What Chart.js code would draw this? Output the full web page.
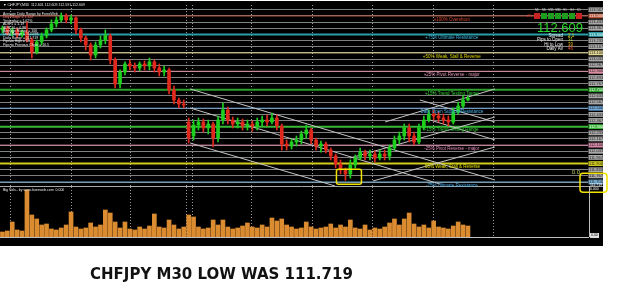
<!DOCTYPE html>
<html><head><meta charset="utf-8">
<script src="https://cdn.jsdelivr.net/npm/chart.js"></script>
<style>
html,body{margin:0;padding:0;background:#fff;width:625px;height:297px;overflow:hidden}
#bg{position:absolute;left:0;top:1px;width:603px;height:245px;background:#000}
canvas{position:absolute;left:0;top:0}
#title{position:absolute;left:90px;top:265px;font:bold 15px "DejaVu Sans";color:#111;white-space:nowrap}
</style></head><body>
<div id="bg"></div>
<canvas id="price" width="625" height="297" style="width:625px;height:297px"></canvas>
<canvas id="vol" width="625" height="297" style="width:625px;height:297px"></canvas>
<div id="title">CHFJPY M30 LOW WAS 111.719</div>
<script>
// ---------- data ----------
const timeLabels = ["21 Jan 2015","22 Jan 04:00","22 Jan 12:00","22 Jan 20:00","23 Jan 04:00","23 Jan 12:00","23 Jan 20:00","26 Jan 04:00","26 Jan 12:00","26 Jan 20:00","27 Jan 04:00","27 Jan 12:00","27 Jan 20:00","28 Jan 04:00","28 Jan 12:00","28 Jan 20:00","29 Jan 04:00","29 Jan 12:00","29 Jan 20:00","30 Jan 04:00","30 Jan 12:00","30 Jan 20:00","2 Feb 04:00","2 Feb 12:00","2 Feb 20:00"];

const openP = [113.349,113.370,113.316,113.349,113.294,113.327,113.240,113.110,113.218,113.284,
113.349,113.414,113.457,113.500,113.457,113.479,113.349,113.262,113.186,113.077,
113.186,113.240,113.284,113.023,112.763,112.893,112.980,112.958,112.936,112.980,
112.958,113.002,112.936,112.893,112.915,112.698,112.589,112.546,112.351,112.199,
112.318,112.351,112.286,112.329,112.177,112.372,112.481,112.372,112.329,112.351,
112.307,112.329,112.307,112.351,112.372,112.351,112.394,112.307,112.112,112.090,
112.134,112.156,112.221,112.264,112.156,112.090,112.112,112.047,111.982,111.895,
111.830,111.787,111.884,111.960,112.025,111.982,112.004,111.960,112.004,111.982,
112.069,112.156,112.199,112.286,112.199,112.134,112.286,112.372,112.438,112.416,
112.394,112.372,112.351,112.459,112.524,112.589];
const highP = [113.392,113.392,113.370,113.370,113.349,113.435,113.262,113.240,113.316,113.370,
113.457,113.490,113.533,113.522,113.511,113.490,113.370,113.284,113.208,113.218,
113.284,113.349,113.305,113.045,112.915,113.002,113.023,112.991,113.002,113.012,
113.045,113.023,112.980,112.958,112.936,112.741,112.611,112.589,112.394,112.372,
112.394,112.383,112.372,112.351,112.416,112.557,112.513,112.405,112.394,112.383,
112.372,112.362,112.394,112.416,112.427,112.448,112.427,112.329,112.156,112.166,
112.199,112.253,112.318,112.286,112.177,112.145,112.134,112.069,112.004,111.939,
111.852,111.939,111.993,112.069,112.047,112.047,112.036,112.047,112.047,112.101,
112.199,112.242,112.329,112.329,112.242,112.329,112.416,112.481,112.481,112.459,
112.438,112.416,112.503,112.568,112.633,112.633];
const lowP = [113.316,113.294,113.284,113.262,113.273,113.218,113.045,113.088,113.186,113.262,
113.327,113.381,113.435,113.425,113.414,113.305,113.218,113.132,113.023,113.045,
113.153,113.197,112.980,112.720,112.720,112.861,112.915,112.893,112.904,112.915,
112.915,112.893,112.850,112.850,112.655,112.546,112.503,112.503,112.123,112.156,
112.264,112.242,112.221,112.080,112.134,112.329,112.329,112.286,112.286,112.264,
112.264,112.253,112.264,112.307,112.307,112.329,112.264,112.047,112.047,112.058,
112.090,112.112,112.177,112.112,112.047,112.025,112.015,111.939,111.852,111.787,
111.719,111.743,111.852,111.939,111.939,111.939,111.917,111.939,111.939,111.939,
112.047,112.112,112.156,112.134,112.101,112.112,112.264,112.351,112.372,112.351,
112.329,112.307,112.329,112.438,112.503,112.579];
const closeP = [113.370,113.316,113.349,113.294,113.327,113.240,113.110,113.218,113.284,113.349,
113.414,113.457,113.500,113.457,113.479,113.349,113.262,113.186,113.077,113.186,
113.240,113.294,113.023,112.763,112.893,112.980,112.958,112.936,112.980,112.958,
113.002,112.936,112.893,112.915,112.698,112.589,112.546,112.535,112.177,112.318,
112.351,112.286,112.329,112.177,112.372,112.481,112.372,112.329,112.351,112.307,
112.329,112.307,112.351,112.372,112.351,112.394,112.307,112.112,112.090,112.134,
112.156,112.221,112.264,112.156,112.090,112.112,112.047,111.982,111.895,111.830,
111.787,111.884,111.960,112.025,111.982,112.004,111.960,112.004,111.982,112.069,
112.156,112.199,112.286,112.199,112.134,112.286,112.372,112.438,112.416,112.394,
112.372,112.351,112.459,112.524,112.589,112.609];
const volumes = [50,60,150,70,60,470,220,180,120,130,
80,70,90,120,250,100,80,90,140,100,
120,270,240,150,90,150,80,70,100,80,
110,230,100,90,170,120,80,100,220,200,
100,80,90,170,120,170,100,80,90,110,
140,100,90,120,100,190,160,180,120,100,
80,90,150,100,80,90,100,130,90,120,
100,170,90,80,120,70,90,80,100,140,
180,120,180,240,130,100,120,90,160,100,
90,80,110,150,120,110];

const priceTicks = [111.7,111.767,111.833,111.9,111.967,112.033,112.1,112.167,112.233,112.3,112.367,112.433,112.5,112.567,112.633,112.7,112.767,112.833,112.9,112.967,113.033,113.1,113.167,113.233,113.3,113.367,113.433,113.5,113.567];
const levelPrices = [113.5,113.3,113.1,112.9,112.7,112.5,112.3,112.1,111.9,111.7];
const levelNames = ["+100% Overshoot","+75% Ultimate Resistance","+50% Weak, Stall & Reverse","+25% Pivot Reverse - major","+15% Trend Testing Target","Daily Open Support/Resistance","-15% Trend Testing Range","-25% Pivot Reverse - major","-50% Weak, Stall & Reverse","-75% Ultimate Resistance"];
// channel lines: [slotStart, priceStart, slotEnd, priceEnd]
const channelLines = [
  [38.3,112.709,100.5,111.722],
  [38.3,112.503,89.3,111.678],
  [38.3,112.123,67.9,111.657],
  [75.6,111.711,100.5,112.080],
  [70.9,111.960,100.5,112.405],
  [78.1,112.351,100.5,112.709],
  [85.2,112.589,100.5,112.351],
  [87.3,112.372,100.5,112.156]
];
const daySeparators = [1.5,14,26,37.5,38.7,50.7,63.2,75.4,87.9,100.1];
const lowSlot = 70, lowPrice = 111.719;
const headerText = "\u25BC CHFJPY,M30  112.601 112.609 112.591 112.609";
const infoLines = ["Average Daily Range by ForexWeb","Day Range = 1.31x","Yesterday = 1.02%","ADR 5 = 1.19","ADR 10 = 0.98","Average Range = 106","Daily Range = 112.593","Daily Range = 111.719","Pips to High = 53","Pips to Previous Close = 16.5"];
const signalFrames = ["M1","M5","M15","M30","H1","H4","D1"];
const signalStates = [0,1,1,1,1,1,0];
const statLabels = ["Spread","Pips to Open","Hi to Low","Daily Av"];
const statValues = ["2.1","31","39","46"];
const volLabel = "Big Vols - by www.forexweb.com  0.000";

// ---------- styles ----------
const upColor = '#1fcf1f', downColor = '#e0281c';
const levelColors = ['#b4553c','#2a9ea6','#e2d894','#d88ea0','#2ea02e','#6fa6d6','#38b838','#d486a6','#d2cc1e','#78b2d6'];
const levelTextColors = ['#d8452f','#3cb4e0','#e0d400','#e492b4','#30d030','#48b4ec','#30d030','#e48cc0','#e4e000','#48ace4'];
const levelWidths = [1,2,1,1,2,1,2,1,2,1];
const slotMin = -0.5, slotMax = 119.5;

Chart.defaults.font.family = 'Liberation Sans';

const candleColor = c => (closeP[c.dataIndex] >= openP[c.dataIndex] ? upColor : downColor);
const levelIdx = v => levelPrices.findIndex(p => Math.abs(p - v) < 1e-6);

function drawSeparators(chart) {
  const {ctx, chartArea: a, scales: {x}} = chart;
  ctx.save();
  ctx.strokeStyle = '#9a9a9a'; ctx.lineWidth = 1; ctx.setLineDash([1, 2]);
  daySeparators.forEach(s => {
    const px = Math.round(x.getPixelForValue(s)) + 0.5;
    ctx.beginPath(); ctx.moveTo(px, a.top); ctx.lineTo(px, a.bottom); ctx.stroke();
  });
  ctx.restore();
}
function rrect(ctx, x, y, w, h, r) {
  ctx.beginPath();
  if (ctx.roundRect) ctx.roundRect(x, y, w, h, r); else ctx.rect(x, y, w, h);
  ctx.stroke();
}

const pricePanel = {
  id: 'pricePanel',
  beforeDatasetsDraw: drawSeparators,
  afterDraw(chart) {
    const {ctx, chartArea: a, scales: {x, y}} = chart;
    ctx.save();
    // bottom border of price window
    ctx.strokeStyle = '#a8a8a8'; ctx.lineWidth = 1;
    ctx.beginPath(); ctx.moveTo(0, a.bottom + 0.5); ctx.lineTo(603, a.bottom + 0.5); ctx.stroke();
    // level labels
    ctx.font = '4.5px "Liberation Sans"'; ctx.textAlign = 'center'; ctx.textBaseline = 'middle';
    levelPrices.forEach((p, k) => {
      ctx.fillStyle = levelTextColors[k];
      ctx.fillText(levelNames[k], x.getPixelForValue(91.7), y.getPixelForValue(p) + 3.5);
    });
    // header
    ctx.textAlign = 'left';
    ctx.fillStyle = '#e6e6e6'; ctx.font = '3.6px "Liberation Sans"';
    ctx.fillText(headerText, 3, 5);
    // info block
    ctx.font = '3.5px "Liberation Sans"';
    infoLines.forEach((t, k) => {
      ctx.fillStyle = k === 1 ? '#ff7a7a' : '#ececec';
      ctx.fillText(t, 3, 14 + k * 3.4);
    });
    // signal boxes
    const sx = a.right - 54;
    signalFrames.forEach((f, k) => {
      const bx = sx + k * 7;
      ctx.fillStyle = signalStates[k] ? '#1e9e1e' : '#c82222';
      ctx.fillRect(bx, 13, 6, 6);
      ctx.fillStyle = '#dddddd'; ctx.font = '2.6px "Liberation Sans"'; ctx.textAlign = 'center';
      ctx.fillText(f, bx + 3, 10.5);
    });
    ctx.fillStyle = '#e03030'; ctx.font = '3.5px "Liberation Sans"'; ctx.textAlign = 'left';
    ctx.fillText('2%', sx - 7, 16);
    // big price
    ctx.font = '13px "Liberation Sans"'; ctx.fillStyle = '#2ad62a'; ctx.textAlign = 'right'; ctx.textBaseline = 'alphabetic';
    ctx.fillText(closeP[closeP.length - 1].toFixed(3), a.right - 5, 32);
    // stats
    ctx.font = '4.5px "Liberation Sans"'; ctx.textBaseline = 'middle';
    const statColors = ['#e6d21e', '#b8dc2a', '#e6b41e', '#e8502a'];
    statLabels.forEach((t, k) => {
      const yy = 35.5 + k * 4.5;
      ctx.textAlign = 'right'; ctx.fillStyle = '#f0f0f0'; ctx.fillText(t, a.right - 25, yy);
      ctx.textAlign = 'left'; ctx.fillStyle = statColors[k]; ctx.fillText(statValues[k], a.right - 20, yy);
    });
    // yellow highlight boxes around the low
    const lx = x.getPixelForValue(lowSlot), ly = y.getPixelForValue(lowPrice);
    ctx.strokeStyle = '#f2e200'; ctx.lineWidth = 1.5;
    rrect(ctx, lx - 9, ly - 11, 25, 15, 2);
    rrect(ctx, a.right - 8, ly - 7, 27, 19, 3);
    ctx.fillStyle = '#b8d060'; ctx.font = '6px "Liberation Sans"'; ctx.textAlign = 'right';
    ctx.fillText('0.0', a.right - 8, ly - 8);
    ctx.fillStyle = '#ffffff'; ctx.font = '3.5px "Liberation Sans"'; ctx.textAlign = 'left';
    ctx.fillText(lowPrice.toFixed(3), a.right + 2, ly + 5);
    ctx.fillText('0.000', a.right + 2, ly + 9);
    ctx.restore();
  }
};

new Chart(document.getElementById('price'), {
  type: 'bar',
  data: {
    datasets: [
      { type: 'bar', data: openP.map((o, i) => ({x: i, y: [o, closeP[i]]})), backgroundColor: candleColor,
        barThickness: 3, grouped: false, minBarLength: 1, borderWidth: 0, order: 0 },
      { type: 'bar', data: lowP.map((l, i) => ({x: i, y: [l, highP[i]]})), backgroundColor: candleColor,
        barThickness: 1, grouped: false, borderWidth: 0, order: 1 },
      ...channelLines.map(c => ({ type: 'line', data: [{x: c[0], y: c[1]}, {x: c[2], y: c[3]}],
        borderColor: '#c4c4c4', borderWidth: 1, pointRadius: 0, order: 2 })),
      ...levelPrices.map((p, k) => ({ type: 'line', data: [{x: slotMin, y: p}, {x: slotMax, y: p}],
        borderColor: levelColors[k], borderWidth: levelWidths[k], pointRadius: 0, order: 3 }))
    ]
  },
  options: {
    responsive: false, animation: false, events: [],
    layout: {padding: {top: 5, bottom: 111, left: 0, right: 22}},
    plugins: {legend: {display: false}, tooltip: {enabled: false}},
    scales: {
      x: {type: 'linear', min: slotMin, max: slotMax, offset: false, display: false},
      y: {
        type: 'linear', position: 'right', min: 111.657, max: 113.619, beginAtZero: false,
        afterBuildTicks: s => { s.ticks = priceTicks.map(v => ({value: v})); },
        afterFit: s => { s.width = 15; },
        grid: {color: '#808080', drawTicks: false, lineWidth: 1},
        border: {display: false},
        ticks: {
          autoSkip: false, padding: 1, font: {size: 4},
          showLabelBackdrop: true,
          backdropPadding: {top: 0, bottom: 0, left: 0.5, right: 0},
          backdropColor: c => { const k = levelIdx(c.tick.value); return k >= 0 ? levelColors[k] : '#a9a9a9'; },
          color: c => { const k = levelIdx(c.tick.value); return (k === 0 || k === 1 || k === 4 || k === 6) ? '#ffffff' : '#1a1a1a'; },
          callback: v => Number(v).toFixed(3)
        }
      }
    }
  },
  plugins: [pricePanel]
});

const volPanel = {
  id: 'volPanel',
  beforeDatasetsDraw: drawSeparators,
  afterDraw(chart) {
    const {ctx, chartArea: a} = chart;
    ctx.save();
    ctx.fillStyle = '#e8e8e8'; ctx.font = '3.5px "Liberation Sans"'; ctx.textBaseline = 'middle';
    ctx.fillText(volLabel, 3, a.top + 3);
    ctx.strokeStyle = '#bdbdbd'; ctx.lineWidth = 1;
    ctx.beginPath(); ctx.moveTo(a.right + 1.5, a.top - 1); ctx.lineTo(a.right + 1.5, a.bottom); ctx.stroke();
    ctx.fillStyle = '#dddddd'; ctx.fillRect(a.right + 2, a.bottom - 4, 9, 5);
    ctx.fillStyle = '#111'; ctx.font = '3.5px "Liberation Sans"';
    ctx.fillText('0.00', a.right + 3, a.bottom - 1.5);
    ctx.restore();
  }
};

new Chart(document.getElementById('vol'), {
  type: 'bar',
  data: {datasets: [{data: volumes.map((v, i) => ({x: i, y: v})), backgroundColor: '#dc8c30',
    barThickness: 4, borderWidth: 0}]},
  options: {
    responsive: false, animation: false, events: [],
    layout: {padding: {top: 187, bottom: 52, left: 0, right: 37}},
    plugins: {legend: {display: false}, tooltip: {enabled: false}},
    scales: {
      x: {
        type: 'linear', min: slotMin, max: slotMax, offset: false,
        afterBuildTicks: s => { s.ticks = timeLabels.map((t, k) => ({value: k * 4})); },
        afterFit: s => { s.height = 8; },
        grid: {display: false},
        border: {display: true, color: '#c0c0c0', width: 1},
        ticks: {autoSkip: false, maxRotation: 0, minRotation: 0, align: 'start', padding: 2,
          color: '#d0d0d0', font: {size: 3.5}, callback: (v, idx) => timeLabels[idx]}
      },
      y: {display: false, min: 0, max: 500}
    }
  },
  plugins: [volPanel]
});
</script>
</body></html>
